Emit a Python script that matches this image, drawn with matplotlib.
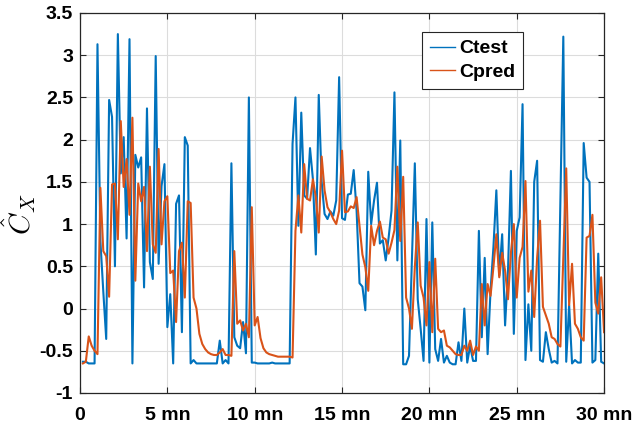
import numpy as np
import matplotlib
matplotlib.use("Agg")
import matplotlib.pyplot as plt

# samples every 10 s
ctest = [
    -0.63, -0.63, -0.65, -0.65, -0.65, 3.13, 0.8, 0.2, -0.36, 2.47,
    2.27, 0.5, 3.25, 1.6, 2.03, 0.83, 3.19, -0.65, 1.82, 1.67,
    1.79, 0.25, 2.37, 0.55, 0.35, 2.99, 0.53, 1.45, 1.71, -0.22,
    0.17, -0.65, 1.24, 1.34, -0.28, 2.03, 1.93, -0.65, -0.61, -0.65,
    -0.65, -0.65, -0.65, -0.65, -0.65, -0.65, -0.65, -0.38, -0.65, -0.61,
    -0.65, 1.72, -0.34, -0.44, -0.47, -0.16, -0.53, 2.5, -0.64, -0.64,
    -0.65, -0.65, -0.65, -0.65, -0.65, -0.64, -0.65, -0.65, -0.65, -0.65,
    -0.65, -0.65, 1.95, 2.5, 0.98, 2.32, 1.34, 1.3, 1.9, 1.53,
    0.64, 2.53, 1.5, 1.12, 1.06, 1.15, 1.1, 1.28, 2.74, 1.07,
    1.05, 1.35, 1.36, 1.64, 1.16, 0.3, 0.26, -0.02, 1.62, 1.0,
    1.28, 1.49, 0.77, 0.81, 0.57, 0.84, 1.16, 2.56, 0.57, 1.99,
    -0.66, -0.66, -0.56, 0.57, 1.72, 0.11, -0.24, -0.62, 1.06, -0.64,
    1.02, -0.48, -0.62, -0.36, -0.64, -0.56, -0.64, -0.66, -0.66, -0.4,
    -0.62, 0.0, -0.64, -0.44, -0.62, -0.62, 0.92, -0.34, 0.6, -0.54,
    0.21, 0.73, 1.4, 0.39, 0.88, -0.2, 0.45, 1.63, -0.3, 0.92,
    1.08, 2.42, -0.61, 0.05, -0.5, 1.5, 1.75, -0.61, -0.63, -0.28,
    -0.48, -0.64, -0.62, -0.65, 1.28, 3.22, -0.63, 0.04, -0.65, -0.61,
    -0.64, -0.64, 1.96, 1.55, 1.5, -0.64, -0.61, 0.65, -0.63, -0.65,
]
cpred = [
    -0.65, -0.63, -0.33, -0.44, -0.5, -0.54, 1.43, 0.68, 0.62, 0.14,
    1.47, 1.48, 0.82, 2.22, 1.44, 1.77, 1.11, 2.26, 0.33, 1.48,
    1.27, 1.44, 0.68, 1.68, 0.76, 0.66, 1.89, 0.76, 1.27, 1.33,
    0.42, 0.45, -0.16, 0.68, 0.78, 0.13, 1.27, 1.25, 0.13, 0.0,
    -0.3, -0.42, -0.48, -0.52, -0.54, -0.55, -0.55, -0.52, -0.48, -0.55,
    -0.55, -0.56, 0.68, -0.18, -0.14, -0.26, -0.18, -0.34, 1.2, -0.2,
    -0.1, -0.35, -0.47, -0.52, -0.54, -0.55, -0.56, -0.57, -0.57, -0.57,
    -0.57, -0.57, -0.58, 0.92, 1.34, 0.9, 1.71, 1.3, 1.28, 1.53,
    1.32, 0.9, 1.8, 1.4, 1.2, 1.14, 1.06, 1.0, 1.16, 1.87,
    1.14, 1.15, 1.21, 1.19, 1.32, 0.98, 0.64, 0.49, 0.21, 0.98,
    0.75, 0.92, 1.03, 0.84, 0.82, 0.65, 0.78, 0.93, 1.68, 0.8,
    1.56, 0.13, 0.0, -0.24, 0.49, 1.02, 0.27, 0.13, -0.2, 0.55,
    -0.28, 0.59, -0.24, -0.28, -0.26, -0.44, -0.46, -0.5, -0.54, -0.55,
    -0.55, -0.44, -0.5, -0.38, -0.55, -0.45, -0.5, 0.29, -0.2, 0.29,
    0.15, 0.49, 0.88, 0.37, 0.66, 0.45, 0.11, 0.66, 1.0, 0.13,
    0.6, 0.73, 1.51, 0.2, 0.45, -0.1, 0.6, 1.04, 0.02, -0.08,
    -0.18, -0.34, -0.36, -0.42, -0.45, 0.6, 1.66, 0.04, 0.53, -0.18,
    -0.24, -0.34, -0.38, 0.84, 0.86, 1.11, 0.07, -0.06, 0.37, -0.28,
]
xticks = [0, 5, 10, 15, 20, 25, 30]
xlabels = ["0", "5 mn", "10 mn", "15 mn", "20 mn", "25 mn", "30 mn"]
yticks = [-1, -0.5, 0, 0.5, 1, 1.5, 2, 2.5, 3, 3.5]

t = np.arange(1, len(ctest) + 1) / 6.0

plt.rcParams["font.family"] = ["Liberation Sans", "DejaVu Sans"]
plt.rcParams["mathtext.fontset"] = "cm"

fig = plt.figure(figsize=(6.36, 4.33), dpi=100)
ax = fig.add_axes([0.1258, 0.0924, 0.824, 0.8776])

ax.plot(t, ctest, color="#0072BD", lw=1.5, label="Ctest")
ax.plot(t, cpred, color="#D95319", lw=1.5, label="Cpred")

ax.set_xlim(0, 30)
ax.set_ylim(-1, 3.5)
ax.set_xticks(xticks)
ax.set_xticklabels(xlabels)
ax.set_yticks(yticks)
ax.set_yticklabels(["%g" % v for v in yticks])
for lab in ax.get_xticklabels() + ax.get_yticklabels():
    lab.set_fontweight("bold")
    lab.set_fontsize(14)
ax.tick_params(direction="in", top=True, right=True, length=4, width=0.8,
               colors="#262626", labelcolor="black")
ax.tick_params(axis="x", pad=10)
ax.tick_params(axis="y", pad=5)
ax.grid(True, color="#dcdcdc", lw=0.8)
ax.set_axisbelow(True)
for s in ax.spines.values():
    s.set_color("#262626")
    s.set_linewidth(0.9)

ax.set_ylabel(r"$\hat{C}_X$", fontsize=21)
ax.yaxis.set_label_coords(-0.08, 0.47)

leg = ax.legend(loc="upper right", bbox_to_anchor=(0.845, 0.95), borderaxespad=0,
                fancybox=False, edgecolor="#262626", framealpha=1,
                handlelength=1.3, borderpad=0.4, labelspacing=0.3,
                handletextpad=0.2, prop={"weight": "bold", "size": 14})
leg.get_frame().set_linewidth(0.8)
for h in leg.get_lines():
    h.set_linewidth(1.0)

fig.savefig("out.png", dpi=100)
